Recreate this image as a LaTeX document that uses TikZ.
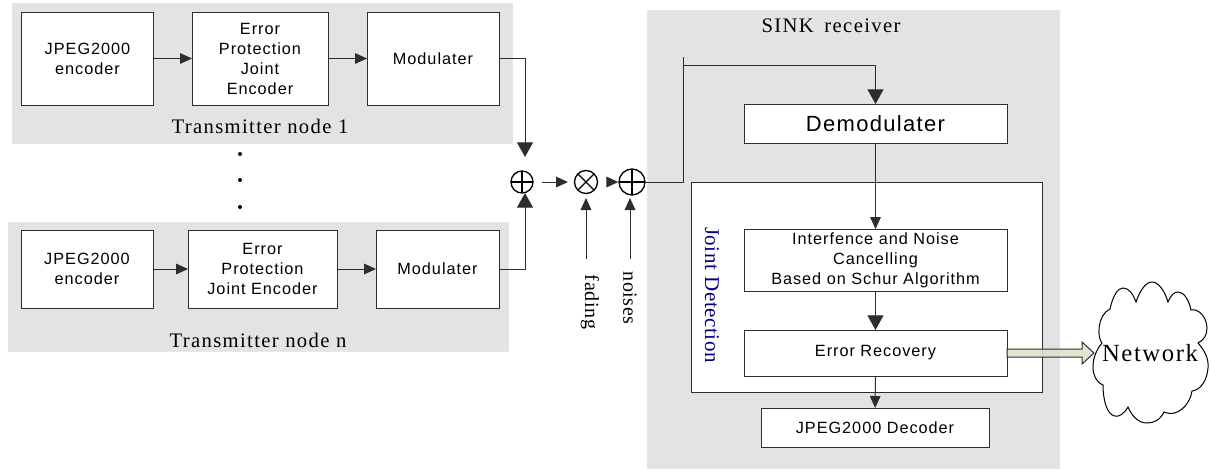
\documentclass[tikz,border=0pt]{standalone}
\usepackage{fontspec}
\usetikzlibrary{arrows.meta}
\newfontfamily\blockfamily[LetterSpace=6]{Liberation Sans}
\newfontfamily\labelfamily[LetterSpace=6.5]{Liberation Serif}
\newfontfamily\sidefamily[LetterSpace=3]{Liberation Serif}
\definecolor{panelgray}{RGB}{227,227,227}
\definecolor{paneledge}{RGB}{232,232,220}
\definecolor{wireblack}{RGB}{45,45,45}
\definecolor{pipefill}{RGB}{221,224,200}
\tikzset{every picture/.style={line width=0.75pt}}
\tikzset{
  panel/.style={fill=panelgray,draw=paneledge},
  blockbox/.style 2 args={draw=wireblack,fill=white,inner sep=0pt,outer sep=0pt,align=center,
    minimum width=#1*0.75pt,minimum height=#2*0.75pt,
    font=\blockfamily\fontsize{12.2}{15}\selectfont},
  serifnode/.style={inner sep=0pt,font=\labelfamily\fontsize{15.5}{18}\selectfont},
  sidenode/.style={inner sep=0pt,rotate=-90,font=\sidefamily\fontsize{15}{18}\selectfont},
  mixer/.style={draw=black,line width=1pt,circle,fill=white,inner sep=0pt,outer sep=0pt,minimum size=#1*0.75pt},
  plusmark/.style={path picture={\draw (path picture bounding box.north) -- (path picture bounding box.south)
    (path picture bounding box.west) -- (path picture bounding box.east);}},
  timesmark/.style={path picture={\draw (path picture bounding box.north west) -- (path picture bounding box.south east)
    (path picture bounding box.south west) -- (path picture bounding box.north east);}},
  wire/.style={draw=wireblack},
  flow/.style={wire,-{Triangle[length=9pt,width=8pt]}},
  bigflow/.style={wire,-{Triangle[length=11pt,width=12pt]}},
  dotmark/.style={circle,fill=black,inner sep=0pt,minimum size=3pt}
}
\begin{document}
\begin{tikzpicture}[x=0.75pt,y=0.75pt,yscale=-1,xscale=1]
\useasboundingbox (0,0) rectangle (1211,469);

%Gray panels
\draw [panel] (12,3) rectangle (512,143);
\draw [panel] (8,222) rectangle (508,351);
\draw [panel] (647,10) rectangle (1059,468);
\node [blockbox={351}{210},font=\normalfont] (joint) at (866.5,287) {};

%Transmitter node 1
\node [blockbox={132}{93}] (jpegone) at (87.5,58.5) {JPEG2000\\encoder};
\node [blockbox={136}{93}] (errorone) at (260,58.5) {Error\\Protection\\Joint\\Encoder};
\node [blockbox={132}{93}] (modone) at (433,58.5) {Modulater};
\node [serifnode] (txone) at (260,126) {Transmitter node 1};

%Dots
\node [dotmark] (dota) at (240,154) {};
\node [dotmark] (dotb) at (240,180) {};
\node [dotmark] (dotc) at (240,207) {};

%Transmitter node n
\node [blockbox={132}{78}] (jpegn) at (87,269) {JPEG2000\\encoder};
\node [blockbox={149}{78}] (errorn) at (262.5,269) {Error\\Protection\\Joint Encoder};
\node [blockbox={123}{78}] (modn) at (437.5,269) {Modulater};
\node [serifnode] (txn) at (258,340) {Transmitter node n};

%Mixers
\node [mixer=22,plusmark] (plusa) at (522,182) {};
\node [mixer=23,timesmark] (timesa) at (586,182) {};
\node [mixer=26,plusmark] (plusb) at (632,182) {};

%Receiver
\node [serifnode] (sinklabel) at (831,26) {SINK\hspace{8pt}receiver};
\node [blockbox={263}{39},font=\blockfamily\fontsize{16.5}{20}\selectfont] (demod) at (875.5,123.5) {Demodulater};
\node [blockbox={263}{62}] (cancel) at (875.5,260) {Interfence and Noise\\Cancelling\\Based on Schur Algorithm};
\node [blockbox={263}{46}] (recovery) at (875.5,353) {Error Recovery};
\node [blockbox={228}{39}] (decoder) at (875,427.5) {JPEG2000 Decoder};
\node [sidenode,text=blue!50!black] (jointlabel) at (712,295) {\fontsize{15.75}{18}\selectfont Joint Detection};
\node [sidenode] (fadinglabel) at (590,302) {fading};
\node [sidenode] (noiseslabel) at (630,298) {noises};

%Free ends
\coordinate (topin) at (525,157);
\coordinate (lowin) at (525,193);
\coordinate (sumout) at (542,182);
\coordinate (sumin) at (568,182);
\coordinate (noisein) at (607,182);
\coordinate (fadingfoot) at (586,259);
\coordinate (fadinghead) at (586,198);
\coordinate (noisesfoot) at (630,259);
\coordinate (noiseshead) at (630,198);
\coordinate (feedcorner) at (683,182);
\coordinate (feedtop) at (683,57);
\coordinate (feedjoin) at (683,65);

%Connectors
\draw [flow] (jpegone) -- (errorone);
\draw [flow] (errorone) -- (modone);
\draw [bigflow] (modone.east) -| (topin);
\draw [flow] (jpegn) -- (errorn);
\draw [flow] (errorn) -- (modn);
\draw [bigflow] (modn.east) -| (lowin);
\draw [flow] (sumout) -- (sumin);
\draw [flow,shorten >=0.5pt] (noisein) -- (plusb.west);
\draw [flow] (fadingfoot) -- (fadinghead);
\draw [flow] (noisesfoot) -- (noiseshead);
\draw [wire] (plusb.east) -- (feedcorner) -- (feedtop);
\draw [bigflow] (feedjoin) -| (demod.north);
\draw [flow] (demod) -- (cancel);
\draw [bigflow] (cancel) -- (recovery);
\draw [flow] (recovery) -- (decoder);

%Network cloud
\draw [fill=white] (1110,309) .. controls (1113,295) and (1118,288) .. (1123,288)
  .. controls (1129,288) and (1133,294) .. (1136,302)
  .. controls (1140,290) and (1146,282) .. (1152,282)
  .. controls (1159,282) and (1165,292) .. (1168,302)
  .. controls (1171,295) and (1174,292) .. (1178,292)
  .. controls (1184,292) and (1189,300) .. (1191,310)
  .. controls (1199,308) and (1207,318) .. (1207,328)
  .. controls (1207,335) and (1204,340) .. (1198,343)
  .. controls (1204,350) and (1209,358) .. (1208,368)
  .. controls (1207,380) and (1201,390) .. (1192,391)
  .. controls (1190,405) and (1177,418) .. (1164,412)
  .. controls (1160,420) and (1154,423) .. (1147,423)
  .. controls (1138,423) and (1132,416) .. (1128,407)
  .. controls (1124,414) and (1119,417) .. (1115,416)
  .. controls (1107,415) and (1103,400) .. (1103,385)
  .. controls (1096,382) and (1093,375) .. (1093,367)
  .. controls (1093,357) and (1097,349) .. (1102,343)
  .. controls (1097,338) and (1097,315) .. (1110,309) -- cycle;
\node [inner sep=0pt,font=\labelfamily\fontsize{18.5}{22}\selectfont] (network) at (1150,353) {Network};

%Thick arrow
\draw [draw=wireblack,fill=pipefill,fill opacity=0.85] (recovery.east |- 0,349) -- (1082,349) -- (1082,342) -- (1094,353) -- (1082,364) -- (1082,357) -- (recovery.east |- 0,357) -- cycle;

\end{tikzpicture}
\end{document}
